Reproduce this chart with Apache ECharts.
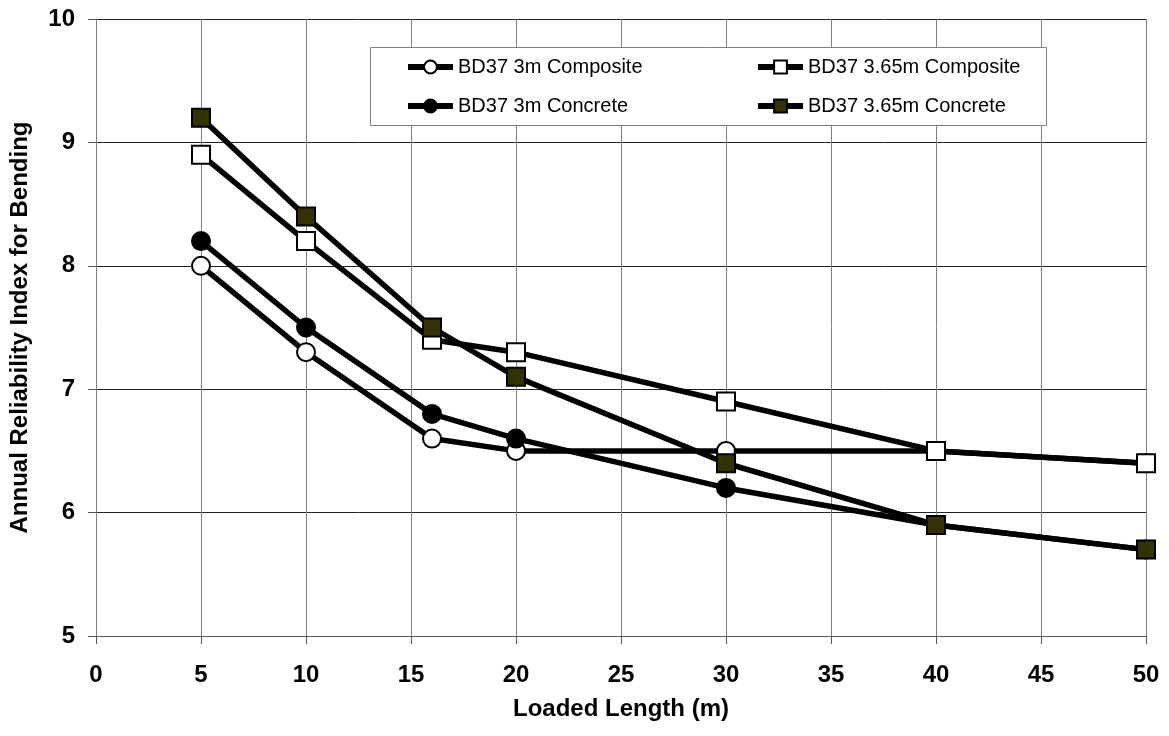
<!DOCTYPE html>
<html>
<head>
<meta charset="utf-8">
<script src="https://cdn.jsdelivr.net/npm/echarts@6/dist/echarts.min.js"></script>
<style>
html,body{margin:0;padding:0;background:#fff;}
#chart{width:1169px;height:736px;}
</style>
</head>
<body>
<div id="chart"></div>
<script>
const loadedLength = [5, 10, 16, 20, 30, 40, 50];
const composite3m = [8.0, 7.3, 6.6, 6.5, 6.5, 6.5, 6.4];
const concrete3m = [8.2, 7.5, 6.8, 6.6, 6.2, 5.9, 5.7];
const composite365 = [8.9, 8.2, 7.4, 7.3, 6.9, 6.5, 6.4];
const concrete365 = [9.2, 8.4, 7.5, 7.1, 6.4, 5.9, 5.7];
const seriesNames = ['BD37 3m Composite', 'BD37 3m Concrete', 'BD37 3.65m Composite', 'BD37 3.65m Concrete'];

function pairs(ys) { return loadedLength.map((x, i) => [x, ys[i]]); }

const FONT = 'Liberation Sans, Arial, sans-serif';

function mkSeries(name, ys, symbol, fill) {
  return {
    name: name,
    type: 'line',
    data: pairs(ys),
    symbol: symbol,
    symbolSize: 18,
    lineStyle: { color: '#000', width: 5.5 },
    itemStyle: { color: fill, borderColor: '#000', borderWidth: 2 },
    emphasis: { disabled: true },
    animation: false
  };
}

const legendCommon = {
  orient: 'vertical',
  top: 56,
  padding: 0,
  itemWidth: 45,
  itemHeight: 16,
  itemGap: 17,
  selectedMode: false,
  textStyle: { fontFamily: FONT, fontSize: 20, color: '#000', lineHeight: 22 },
  lineStyle: { width: 6, color: '#000' },
  itemStyle: { borderWidth: 2, borderColor: '#000' },
  z: 10
};

const chart = echarts.init(document.getElementById('chart'), null, { renderer: 'canvas' });
chart.setOption({
  backgroundColor: '#fff',
  animation: false,
  grid: { left: 96, right: 23, top: 19, bottom: 100 },
  graphic: [{
    type: 'rect',
    z: 1,
    shape: { x: 370.5, y: 47.5, width: 676, height: 78 },
    style: { fill: '#fff', stroke: '#808080', lineWidth: 1 }
  }],
  legend: [
    Object.assign({}, legendCommon, { left: 405, data: [seriesNames[0], seriesNames[1]] }),
    Object.assign({}, legendCommon, { left: 755, data: [seriesNames[2], seriesNames[3]] })
  ],
  xAxis: {
    type: 'value',
    min: 0, max: 50, interval: 5,
    name: 'Loaded Length (m)',
    nameLocation: 'middle',
    nameGap: 61,
    nameTextStyle: { fontFamily: FONT, fontSize: 24, fontWeight: 'bold', color: '#000' },
    axisLine: { show: true, onZero: false, lineStyle: { color: '#555', width: 1 } },
    axisTick: { show: true, length: 8, lineStyle: { color: '#555' } },
    axisLabel: { margin: 27, fontFamily: FONT, fontSize: 24, fontWeight: 'bold', color: '#000' },
    splitLine: { show: true, lineStyle: { color: '#808080', width: 1 } }
  },
  yAxis: {
    type: 'value',
    min: 5, max: 10, interval: 1,
    name: 'Annual Reliability Index for Bending',
    nameLocation: 'middle',
    nameGap: 64,
    nameTextStyle: { fontFamily: FONT, fontSize: 24, fontWeight: 'bold', color: '#000' },
    axisLine: { show: true, lineStyle: { color: '#808080', width: 1 } },
    axisTick: { show: true, length: 8, lineStyle: { color: '#555' } },
    axisLabel: { margin: 21, fontFamily: FONT, fontSize: 24, fontWeight: 'bold', color: '#000' },
    splitLine: { show: true, lineStyle: { color: '#222', width: 1 } }
  },
  series: [
    mkSeries(seriesNames[0], composite3m, 'circle', '#fff'),
    mkSeries(seriesNames[1], concrete3m, 'circle', '#000'),
    mkSeries(seriesNames[2], composite365, 'rect', '#fff'),
    mkSeries(seriesNames[3], concrete365, 'rect', '#333300')
  ]
});
</script>
</body>
</html>
